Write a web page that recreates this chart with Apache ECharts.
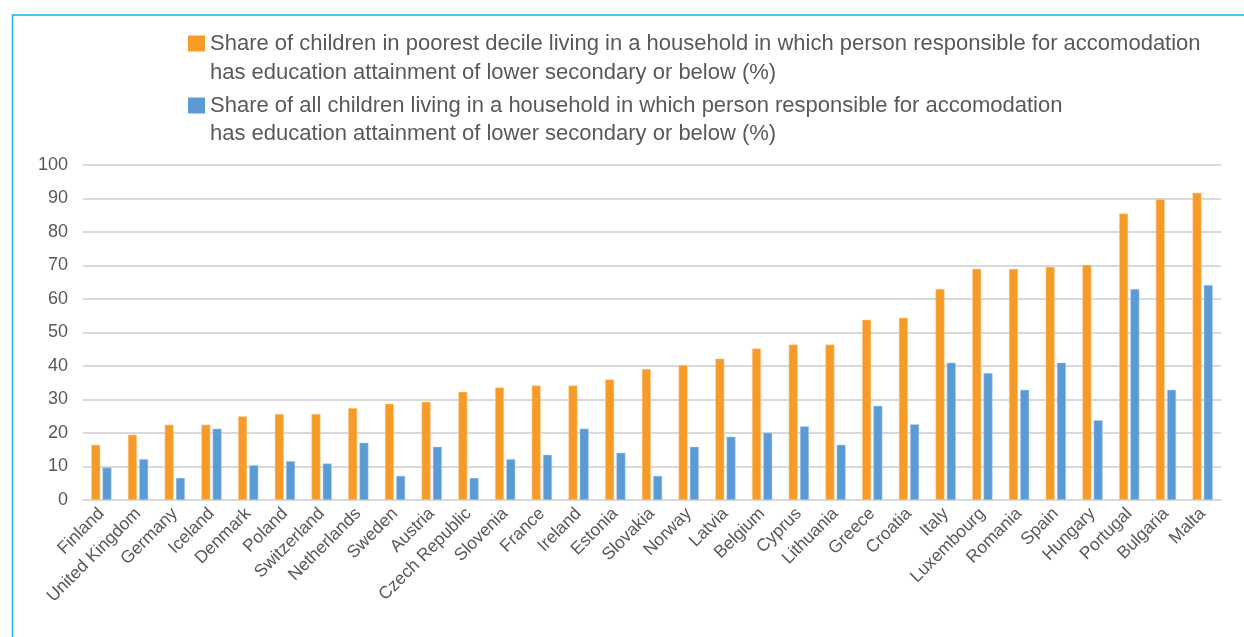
<!DOCTYPE html>
<html>
<head>
<meta charset="utf-8">
<script src="https://cdn.jsdelivr.net/npm/echarts@6/dist/echarts.min.js"></script>
<style>
  html, body { margin: 0; padding: 0; background: #ffffff; }
  #chart { width: 1244px; height: 637px; }
</style>
</head>
<body>
<div id="chart"></div>
<script>
// Countries, ordered by the poorest-decile share
const countries = [
  'Finland', 'United Kingdom', 'Germany', 'Iceland', 'Denmark', 'Poland',
  'Switzerland', 'Netherlands', 'Sweden', 'Austria', 'Czech Republic',
  'Slovenia', 'France', 'Ireland', 'Estonia', 'Slovakia', 'Norway', 'Latvia',
  'Belgium', 'Cyprus', 'Lithuania', 'Greece', 'Croatia', 'Italy',
  'Luxembourg', 'Romania', 'Spain', 'Hungary', 'Portugal', 'Bulgaria', 'Malta'
];

// Children in the poorest decile (%)
const poorestDecile = [
  16.5, 19.5, 22.5, 22.5, 25.0, 25.7, 25.7, 27.5, 28.7, 29.3, 32.3,
  33.6, 34.2, 34.2, 36.0, 39.1, 40.3, 42.2, 45.2, 46.4, 46.4, 53.8,
  54.4, 63.0, 69.0, 69.0, 69.6, 70.2, 85.5, 89.8, 91.7
];

// All children (%)
const allChildren = [
  9.7, 12.2, 6.6, 21.3, 10.4, 11.6, 10.9, 17.1, 7.2, 15.9, 6.6,
  12.2, 13.5, 21.3, 14.1, 7.2, 15.9, 18.9, 20.1, 22.0, 16.5, 28.1,
  22.6, 41.0, 37.9, 32.9, 41.0, 23.8, 63.0, 32.9, 64.2
];

const yTicks = { min: 0, max: 100, interval: 10 };

// Legend entries: first line is the series name, second line continues it
const seriesNames = [
  'Share of children in poorest decile living in a household in which person responsible for accomodation',
  'Share of all children living in a household in which person responsible for accomodation'
];
const legendContinuation = [
  'has education attainment of lower secondary or below (%)',
  'has education attainment of lower secondary or below (%)'
];

const textGray = '#595959';
const gridGray = '#d9d9d9';
const FONT = '"Liberation Sans", Arial, sans-serif';
const LEGEND_FONT_SIZE = 22;

const chart = echarts.init(document.getElementById('chart'), null, { renderer: 'canvas' });

chart.setOption({
  backgroundColor: '#ffffff',
  animation: false,
  textStyle: { fontFamily: FONT },
  graphic: [
    { type: 'line', shape: { x1: 12, y1: 15, x2: 1244, y2: 15 },
      style: { stroke: '#14b2ec', lineWidth: 1.5 } },
    { type: 'line', shape: { x1: 12.5, y1: 15, x2: 12.5, y2: 637 },
      style: { stroke: '#14b2ec', lineWidth: 1.5 } },
    { type: 'text', left: 210, top: 62,
      style: { text: legendContinuation[0], fill: textGray, fontSize: LEGEND_FONT_SIZE, fontFamily: FONT } },
    { type: 'text', left: 210, top: 123,
      style: { text: legendContinuation[1], fill: textGray, fontSize: LEGEND_FONT_SIZE, fontFamily: FONT } }
  ],
  legend: {
    orient: 'vertical',
    left: 183,
    top: 24,
    itemWidth: 17,
    itemHeight: 16,
    itemGap: 33,
    icon: 'rect',
    itemStyle: { borderWidth: 0 },
    textStyle: {
      color: textGray,
      fontSize: LEGEND_FONT_SIZE,
      fontFamily: FONT,
      lineHeight: 29
    },
    data: seriesNames
  },
  grid: { left: 83, right: 23, top: 165, bottom: 137, containLabel: false },
  xAxis: {
    type: 'category',
    data: countries,
    axisLine: { lineStyle: { color: gridGray, width: 2 } },
    axisTick: { show: false },
    axisLabel: {
      interval: 0,
      rotate: 45,
      margin: 11,
      color: textGray,
      fontSize: 17.5,
      fontFamily: FONT
    }
  },
  yAxis: {
    type: 'value',
    min: yTicks.min,
    max: yTicks.max,
    interval: yTicks.interval,
    axisLine: { show: false },
    axisTick: { show: false },
    splitLine: { lineStyle: { color: gridGray, width: 2 } },
    axisLabel: {
      color: textGray,
      fontSize: 18,
      margin: 15,
      fontFamily: FONT
    }
  },
  series: [
    {
      name: seriesNames[0],
      type: 'bar',
      data: poorestDecile,
      barWidth: 9,
      barGap: '25%',
      itemStyle: { color: '#f79b28', borderColor: '#fcd3a3', borderWidth: 0.5 }
    },
    {
      name: seriesNames[1],
      type: 'bar',
      data: allChildren,
      barWidth: 9,
      itemStyle: { color: '#5b9bd5', borderColor: '#b9d3ee', borderWidth: 0.5 }
    }
  ]
});
</script>
</body>
</html>
